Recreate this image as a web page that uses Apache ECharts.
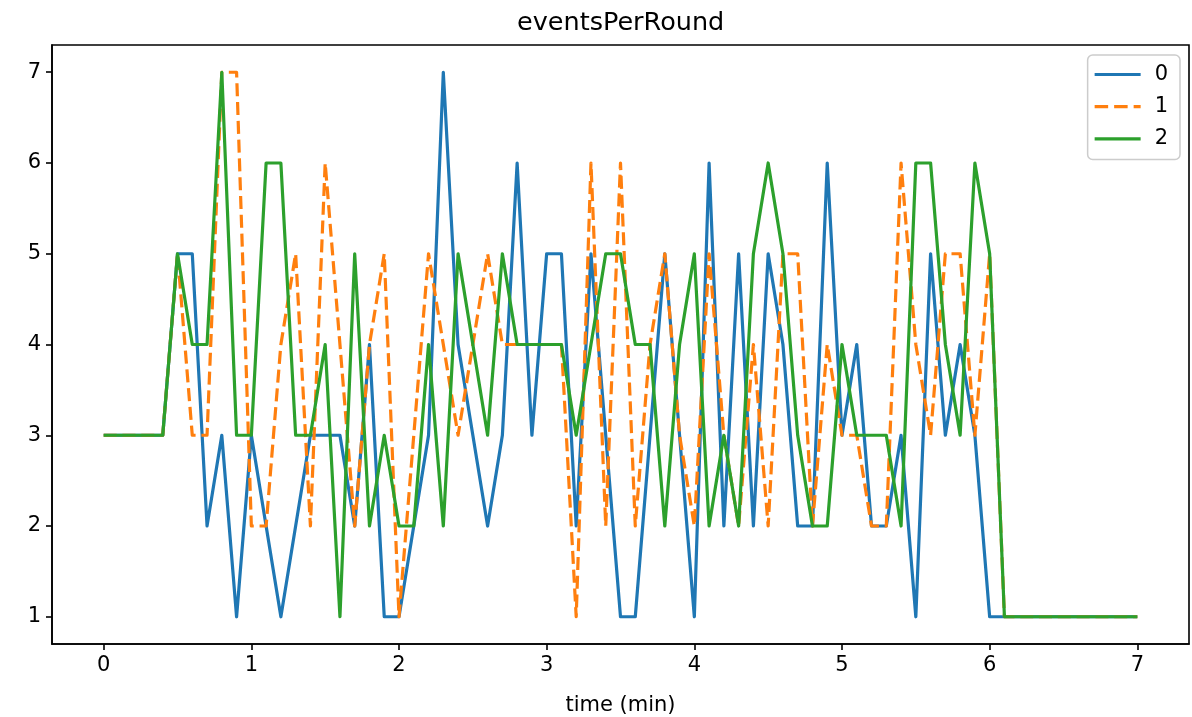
<!DOCTYPE html>
<html><head><meta charset="utf-8">
<script src="https://cdn.jsdelivr.net/npm/echarts@6/dist/echarts.min.js"></script>
<style>html,body{margin:0;padding:0;background:#fff}#c{width:1192px;height:717px}</style>
</head><body><div id="c"></div>
<script>
const times = [0.0,0.1,0.2,0.3,0.4,0.5,0.6,0.7,0.8,0.9,
  1.0,1.1,1.2,1.3,1.4,1.5,1.6,1.7,1.8,1.9,
  2.0,2.1,2.2,2.3,2.4,2.5,2.6,2.7,2.8,2.9,
  3.0,3.1,3.2,3.3,3.4,3.5,3.6,3.7,3.8,3.9,
  4.0,4.1,4.2,4.3,4.4,4.5,4.6,4.7,4.8,4.9,
  5.0,5.1,5.2,5.3,5.4,5.5,5.6,5.7,5.8,5.9,
  6.0,6.1,6.2,6.3,6.4,6.5,6.6,6.7,6.8,6.9,7.0];
const seriesNames = ['0', '1', '2'];
const series0 = [3,3,3,3,3, 5,5,2,3,1, 3,2,1,2,3, 3,3,2,4,1, 1,2,3,7,4, 3,2,3,6,3,
  5,5,2,5,3, 1,1,3,5,3, 1,6,2,5,2, 5,4,2,2,6, 3,4,2,2,3, 1,5,3,4,3,
  1,1,1,1,1, 1,1,1,1,1, 1];
const series1 = [3,3,3,3,3, 5,3,3,7,7, 2,2,4,5,2, 6,4,2,4,5, 1,3,5,4,3, 4,5,4,4,4,
  4,4,1,6,2, 6,2,4,5,3, 2,5,3,2,4, 2,5,5,2,4, 3,3,2,2,6, 4,3,5,5,3,
  5,1,1,1,1, 1,1,1,1,1, 1];
const series2 = [3,3,3,3,3, 5,4,4,7,3, 3,6,6,3,3, 4,1,5,2,3, 2,2,4,2,5, 4,3,5,4,4,
  4,4,3,4,5, 5,4,4,2,4, 5,2,3,2,5, 6,5,3,2,2, 4,3,3,3,2, 6,6,4,3,6,
  5,1,1,1,1, 1,1,1,1,1, 1];
const xTicks = [0, 1, 2, 3, 4, 5, 6, 7];
const yTicks = [1, 2, 3, 4, 5, 6, 7];
const titleText = 'eventsPerRound';
const xLabel = 'time (min)';

const colors = ['#1f77b4', '#ff7f0e', '#2ca02c'];
const FONT = '"DejaVu Sans", sans-serif';
const allSeries = [series0, series1, series2];
const solidIcon = 'path://M0,0H46V3.2H0Z';
const dashIcon = 'path://M0,0H13.5V3.2H0Z M19.5,0H33V3.2H19.5Z M39,0H46V3.2H39Z';

const chart = echarts.init(document.getElementById('c'), null, {renderer: 'canvas'});
chart.setOption({
  animation: false,
  backgroundColor: '#fff',
  title: {
    text: titleText, left: 512, top: 5,
    textStyle: {fontFamily: FONT, fontSize: 25.5, fontWeight: 'normal', color: '#000'}
  },
  grid: {left: 52, right: 3, top: 45, bottom: 73, containLabel: false, outerBoundsMode: 'none',
    show: true, borderColor: '#000', borderWidth: 1.6, backgroundColor: 'transparent'},
  legend: {
    orient: 'vertical', right: 12, top: 55,
    itemWidth: 46, itemHeight: 3.2, itemGap: 11.2,
    padding: [9, 12, 10, 7],
    borderColor: '#cccccc', borderWidth: 1.5, borderRadius: 5,
    backgroundColor: 'rgba(255,255,255,0.8)',
    textStyle: {fontFamily: FONT, fontSize: 21, color: '#000', padding: [0, 0, 0, 9]},
    data: seriesNames.map((n, k) => ({name: n, icon: k === 1 ? dashIcon : solidIcon}))
  },
  xAxis: {
    type: 'value', min: -0.35, max: 7.35,
    name: xLabel, nameLocation: 'middle', nameGap: 51,
    nameTextStyle: {fontFamily: FONT, fontSize: 21, color: '#000'},
    axisLine: {show: true, onZero: false, lineStyle: {color: '#000', width: 1.6}},
    axisTick: {show: true, inside: false, length: 6, lineStyle: {color: '#000', width: 1.6}, customValues: xTicks},
    axisLabel: {fontFamily: FONT, fontSize: 21, color: '#000', margin: 11, customValues: xTicks},
    splitLine: {show: false}
  },
  yAxis: {
    type: 'value', min: 0.7, max: 7.3,
    axisLine: {show: true, onZero: false, lineStyle: {color: '#000', width: 1.6}},
    axisTick: {show: true, inside: false, length: 6, lineStyle: {color: '#000', width: 1.6}, customValues: yTicks},
    axisLabel: {fontFamily: FONT, fontSize: 21, color: '#000', margin: 11, customValues: yTicks},
    splitLine: {show: false}
  },
  series: allSeries.map((vals, k) => ({
    name: seriesNames[k],
    type: 'line',
    data: times.map((t, i) => [t, vals[i]]),
    showSymbol: false, symbol: 'none',
    color: colors[k],
    itemStyle: {color: colors[k]},
    lineStyle: {color: colors[k], width: 3.2, type: k === 1 ? [13, 5.8] : 'solid', join: 'round', cap: 'butt'},
    emphasis: {disabled: true},
    z: 2 + k
  }))
});
</script>
</body></html>
